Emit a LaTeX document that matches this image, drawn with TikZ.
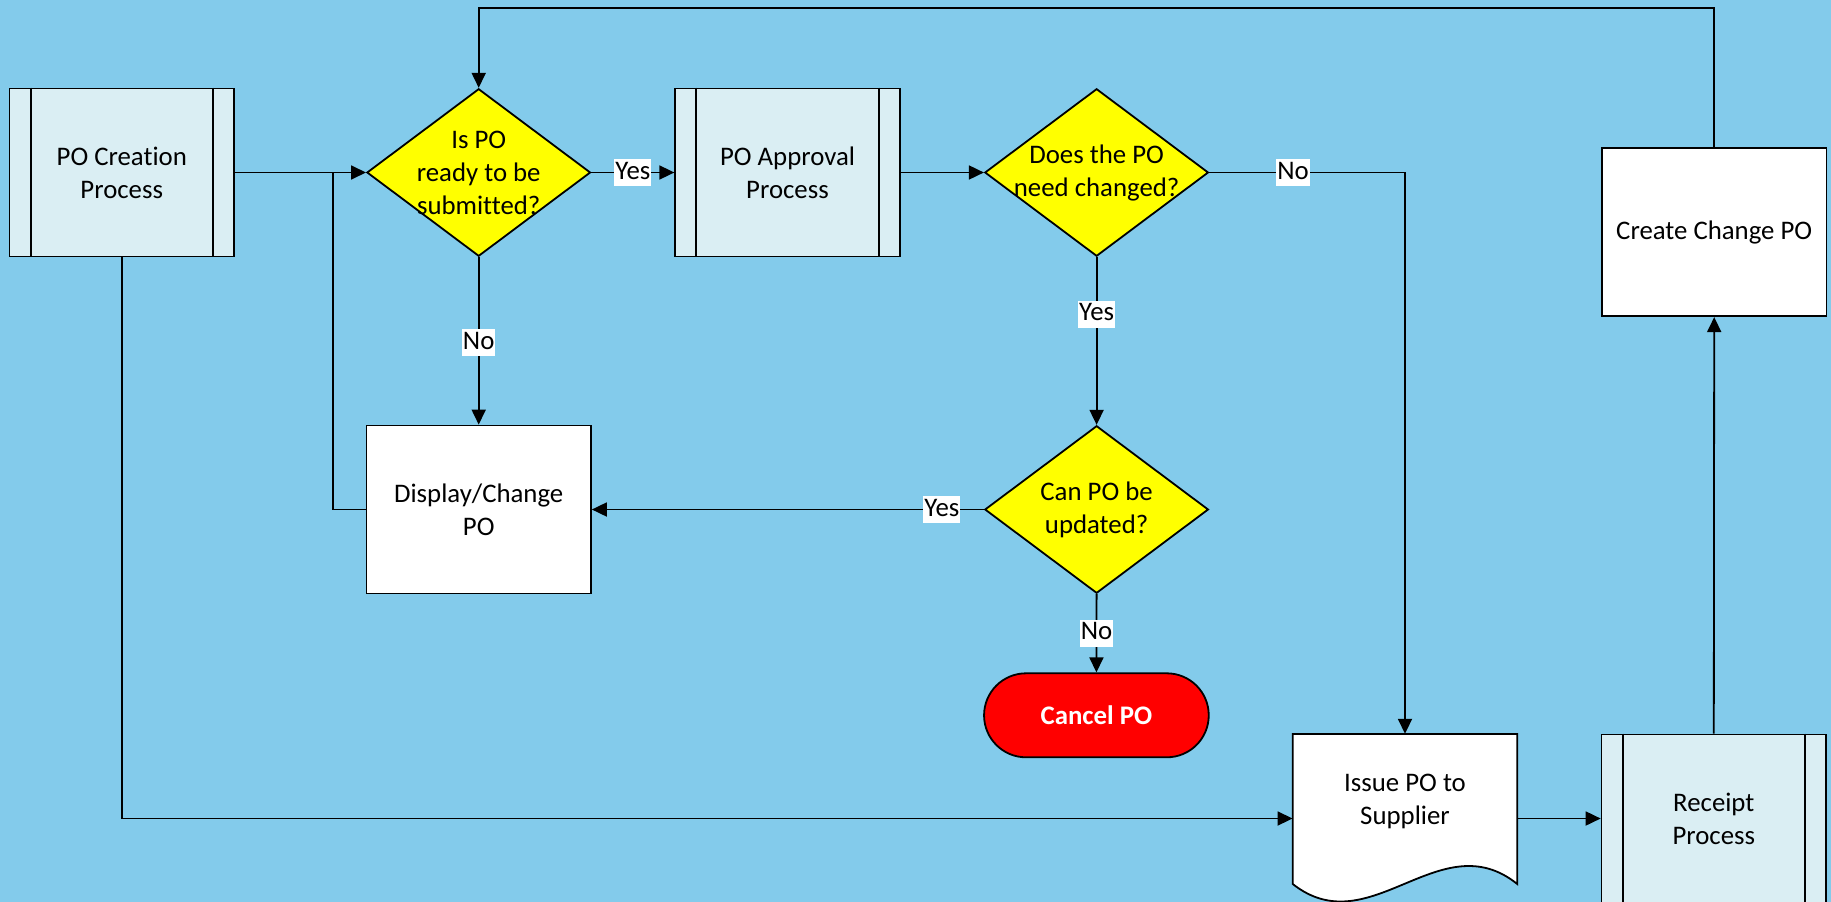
\documentclass[tikz,border=0pt]{standalone}
\usepackage{fontspec}
\setmainfont{Carlito}[Ligatures=NoCommon]
\usetikzlibrary{shapes.geometric,arrows.meta}
\definecolor{bgblue}{RGB}{131,203,235}
\definecolor{procfill}{RGB}{218,238,243}
\definecolor{decfill}{RGB}{255,255,0}
\definecolor{stopfill}{RGB}{255,0,0}
\begin{document}
\begin{tikzpicture}[x=1pt,y=-1pt,
  every node/.style={font=\fontsize{26.8}{33}\selectfont},
  line/.style={line width=1.8pt, draw=black},
  arr/.style={line, -{Triangle[length=15pt,width=14pt]}},
  proc/.style={draw, line width=1.8pt, fill=procfill, minimum width=224.5pt,
    minimum height=168pt, align=center, inner sep=0pt},
  stepbox/.style={draw, line width=1.8pt, fill=white, minimum width=224.5pt,
    minimum height=168pt, align=center, inner sep=0pt},
  decision/.style={diamond, draw, line width=1.8pt, fill=decfill,
    minimum width=223.6pt, minimum height=167.5pt, inner sep=0pt},
  lbl/.style={fill=white, inner sep=1pt, text height=19pt, text depth=6pt}
]
% canvas
\useasboundingbox (0,0) rectangle (1831,902);
\fill[bgblue] (0,0) rectangle (1831,902);
\clip (0,0) rectangle (1831,902);

% process boxes
\node[proc] (creat) at (121.75,172.5) {PO Creation\\Process};
\node[proc] (appr) at (787.5,172.5) {PO Approval\\Process};
\node[proc] (rcpt) at (1713.8,818.5) {Receipt\\Process};
\foreach \n in {creat,appr,rcpt}{
  \draw[line] ([xshift=22pt]\n.north west) -- ([xshift=22pt]\n.south west);
  \draw[line] ([xshift=-22pt]\n.north east) -- ([xshift=-22pt]\n.south east);
}
\node[stepbox] (disp) at (478.7,509.5) {Display/Change\\PO};
\node[stepbox] (ccp) at (1714.2,232.2) {Create Change PO};

% decisions
\node[decision, label={[align=center]center:Is PO\\ready to be\\submitted?}] (d1) at (478.7,172.5) {};
\node[decision, label={[align=center]center:Does the PO\\need changed?}] (d2) at (1096.6,172.5) {};
\node[decision, label={[align=center]center:Can PO be\\updated?}] (d3) at (1096.6,509.5) {};

% terminator
\node[draw, line width=1.8pt, fill=stopfill, rounded corners=42pt,
  minimum width=224.7pt, minimum height=84pt, text=white,
  font=\fontsize{26.8}{33}\selectfont\bfseries] (cancel) at (1096.4,715.3) {Cancel PO};

% document
\node[minimum width=224.5pt, minimum height=169pt, inner sep=0pt] (issue) at (1405,818.5) {};
\draw[line, fill=white] (1292.75,734) -- (1517.25,734) -- (1517.25,884)
  .. controls (1440,822) and (1370,945) .. (1292.75,884) -- cycle;
\node[align=center] (issuetxt) at (1405,801.7) {Issue PO to\\Supplier};

% connectors
\coordinate (join) at (333.3,172.5);
\coordinate (topleft) at (478.7,8);
\draw[arr] (creat.east) -- (d1.west);
\draw[line] (disp.west) -| (join);
\draw[arr] (d1.east) -- node[lbl,pos=0.5] {Yes} (appr.west);
\draw[arr] (d1.south) -- node[lbl,pos=0.51] {No} (disp.north);
\draw[arr] (appr.east) -- (d2.west);
\draw[arr] (d2.east) -| node[lbl,pos=0.214] {No} (issue.north);
\draw[arr] (d2.south) -- node[lbl,pos=0.34] {Yes} (d3.north);
\draw[arr] (d3.west) -- node[lbl,pos=0.107] {Yes} (disp.east);
\draw[arr] (d3.south) -- node[lbl,pos=0.5] {No} (cancel.north);
\draw[arr] (creat.south) |- (issue.west);
\draw[arr] (issue.east) -- (rcpt.west);
\draw[arr] (rcpt.north) -- (ccp.south);
\draw[arr] (ccp.north) |- (topleft) -- (d1.north);
\end{tikzpicture}
\end{document}
